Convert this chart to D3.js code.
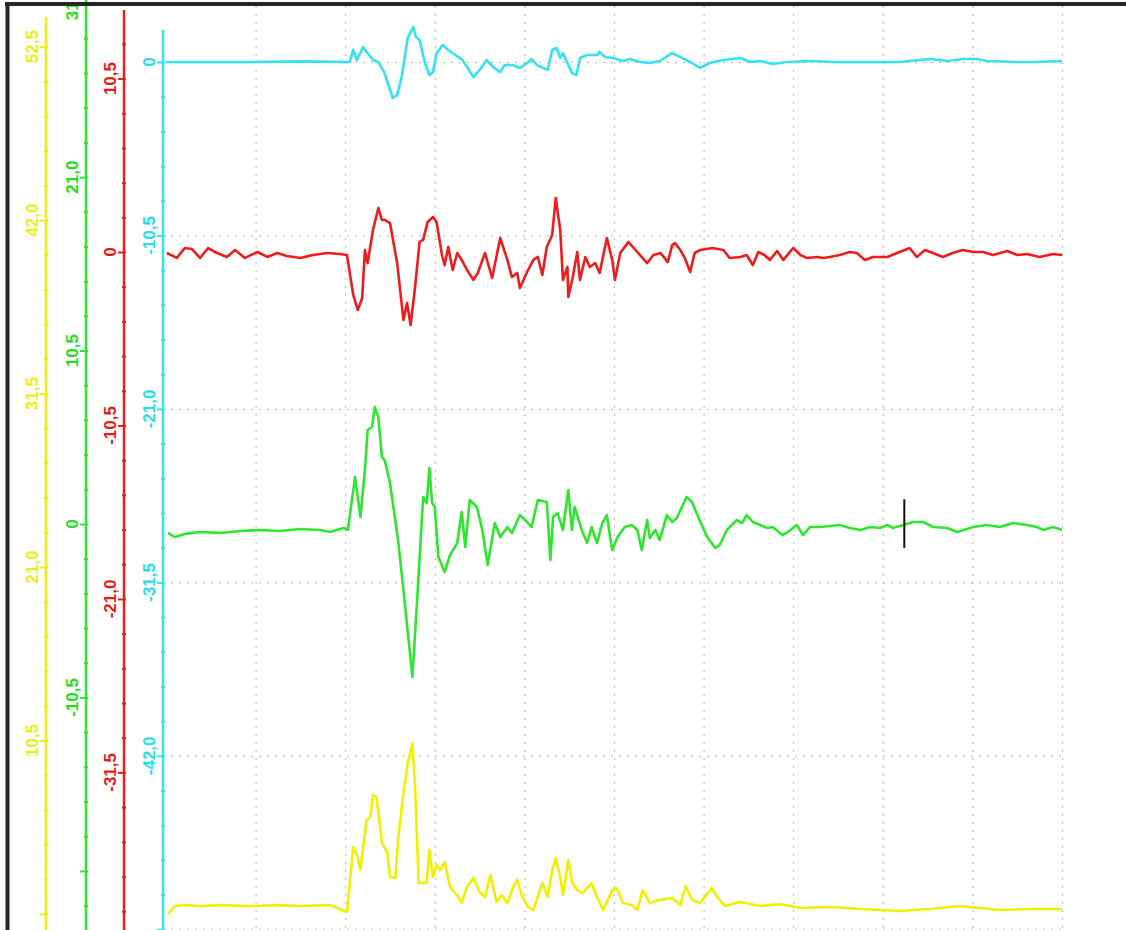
<!DOCTYPE html>
<html>
<head>
<meta charset="utf-8">
<script src="https://cdn.jsdelivr.net/npm/d3@7"></script>
<style>
  body { margin: 0; background: #fff; }
  svg { display: block; }
  .grid line { stroke: #b4b4b4; stroke-width: 1; stroke-dasharray: 2,6; }
  .lbl { font-family: "Liberation Sans", Arial, sans-serif; font-size: 17px; font-weight: bold; }
</style>
</head>
<body>
<script>
'use strict';

// Four channel traces, each with its own vertical axis on the left.
// t runs 0..100 across the ten screen divisions, values are in the
// channel's own units.

var cyanTrace = [
  [0, 0], [9.4, 0], [15.0, 0.04], [20.1, 0], [20.5, 0], [20.9, 0.73], [21.3, 0.12], [22.0, 0.91],
  [22.4, 0.61], [23.1, 0.12], [23.7, 0], [24.4, -0.67], [25.3, -2.18], [25.8, -2.0], [26.3, -0.91],
  [27.0, 1.51], [27.6, 2.12], [27.9, 1.51], [28.3, 1.33], [28.9, -0.06], [29.4, -0.79], [29.8, -0.61],
  [30.2, 0.54], [30.9, 1.03], [31.5, 0.73], [32.3, 0.42], [33.1, 0.12], [34.3, -0.91], [35.0, -0.48],
  [35.8, 0.12], [36.5, -0.3], [37.3, -0.61], [37.8, -0.18], [38.7, -0.18], [39.5, -0.36], [40.3, -0.06],
  [40.8, 0.18], [41.4, -0.18], [42.1, -0.36], [42.6, -0.48], [43.1, 0.73], [43.6, 0.85], [44.0, 0.24],
  [44.3, 0.54], [44.8, -0.06], [45.3, -0.67], [45.8, -0.79], [46.2, 0.24], [47.0, 0.42], [48.1, 0.42],
  [48.4, 0.61], [49.0, 0.3], [49.9, 0.24], [51.0, 0.06], [51.8, 0.18], [52.9, 0], [54.0, -0.06],
  [55.1, 0.06], [56.5, 0.54], [57.4, 0.3], [58.5, 0], [59.6, -0.36], [60.7, -0.06], [62.2, 0.12],
  [64.1, 0.24], [65.2, 0], [66.3, 0.06], [67.7, -0.12], [69.3, 0], [72.2, 0.06], [74.4, 0],
  [78.2, 0], [81.9, 0], [85.3, 0.18], [87.2, 0.06], [88.9, 0.18], [90.5, 0.18], [91.6, 0.06],
  [95.0, 0], [96.8, 0], [100, 0.06]
];

var redTrace = [
  [0.1, -0.06], [1.2, -0.36], [2.1, 0.24], [2.9, 0.18], [3.8, -0.36], [4.7, 0.24], [5.7, -0.06],
  [6.8, -0.3], [7.7, 0.12], [8.8, -0.36], [10.2, 0], [11.3, -0.3], [12.4, -0.06], [13.5, -0.24],
  [15.0, -0.36], [16.4, -0.18], [18.0, -0.06], [19.4, -0.12], [20.2, -0.18], [20.9, -2.6],
  [21.4, -3.51], [21.9, -2.78], [22.2, 0.12], [22.5, -0.67], [23.1, 1.33], [23.7, 2.66], [24.1, 1.94],
  [24.4, 1.94], [25.0, 1.75], [25.8, -0.67], [26.5, -4.11], [26.9, -3.09], [27.3, -4.42], [27.8, -2.12],
  [28.3, 0.61], [28.7, 0.73], [29.2, 1.82], [29.8, 2.12], [30.2, 1.82], [30.8, -0.18], [31.1, -0.79],
  [31.5, 0.3], [32.0, -1.09], [32.5, -0.06], [33.0, -0.48], [33.6, -1.09], [34.3, -1.69], [34.8, -1.27],
  [35.6, -0.06], [36.4, -1.57], [37.3, 0.85], [38.1, -0.48], [38.6, -1.51], [39.2, -1.27], [39.5, -2.18],
  [40.3, -1.21], [41.0, -0.48], [41.5, -0.3], [42.0, -1.39], [42.5, 0.3], [43.1, 1.03], [43.5, 3.27],
  [44.0, 1.33], [44.3, -1.69], [44.8, -0.91], [44.9, -2.72], [45.4, -1.51], [45.9, 0], [46.2, -1.69],
  [46.8, -0.3], [47.3, -0.91], [47.9, -0.67], [48.4, -1.27], [49.2, 0.85], [49.8, -0.48], [50.1, -1.69],
  [50.7, -0.06], [51.6, 0.61], [52.6, 0], [53.7, -0.67], [54.4, -0.18], [55.2, -0.06], [56.0, -0.61],
  [56.5, 0.42], [56.8, 0.54], [57.4, 0.12], [57.9, -0.36], [58.5, -1.21], [59.0, -0.06], [59.6, 0.12],
  [61.0, 0.24], [62.2, 0.12], [62.9, -0.36], [64.1, -0.3], [64.8, -0.18], [65.5, -0.79], [66.1, 0],
  [66.8, -0.18], [67.4, -0.48], [68.2, 0.06], [68.9, -0.48], [70.0, 0.24], [70.8, -0.18], [71.5, -0.36],
  [72.7, -0.3], [73.3, -0.36], [74.1, -0.3], [75.2, -0.18], [76.3, 0], [77.1, -0.06], [78.0, -0.48],
  [78.9, -0.3], [80.5, -0.3], [81.6, -0.06], [83.0, 0.24], [83.8, -0.3], [84.7, 0.12], [85.6, -0.06],
  [86.7, -0.3], [87.8, -0.06], [88.9, 0.12], [90.1, 0], [91.2, 0], [92.3, -0.18], [93.9, 0.06],
  [95.0, -0.18], [96.1, -0.12], [97.5, -0.3], [99.0, -0.12], [100, -0.18]
];

var greenTrace = [
  [0.2, -0.54], [1.0, -0.79], [2.1, -0.6], [3.8, -0.48], [6.0, -0.54], [8.3, -0.42], [10.5, -0.36],
  [12.7, -0.42], [15.0, -0.3], [17.2, -0.36], [18.3, -0.48], [19.8, -0.24], [20.3, -0.36], [21.1, 2.84],
  [21.7, 0.42], [22.2, 3.27], [22.5, 5.69], [23.0, 5.87], [23.3, 7.08], [23.7, 6.47], [24.1, 4.05],
  [24.4, 3.87], [25.0, 2.48], [25.9, -0.97], [26.7, -5.02], [27.5, -9.26], [28.1, -3.99], [28.7, 1.63],
  [29.1, 1.27], [29.4, 3.39], [29.7, 1.27], [30.0, 1.03], [30.4, -2.0], [31.1, -2.9], [31.7, -1.88],
  [32.5, -1.15], [33.0, 0.73], [33.4, -1.39], [33.9, 1.45], [34.7, 1.03], [35.3, -0.36], [35.9, -2.48],
  [36.7, 0.06], [37.3, -0.79], [38.1, -0.18], [38.6, -0.54], [39.5, 0.54], [40.3, 0.12], [40.8, -0.18],
  [41.5, 1.45], [42.5, 1.33], [42.9, -2.18], [43.2, 0.42], [43.7, 0.67], [44.3, -0.36], [44.9, 2.06],
  [45.3, -0.36], [45.6, 1.03], [46.4, -0.36], [47.0, -1.15], [47.5, -0.18], [48.1, -1.15], [48.7, 0.06],
  [49.2, 0.54], [49.8, -1.57], [50.4, -0.79], [51.2, -0.18], [52.0, -0.06], [52.6, -0.36], [53.1, -1.57],
  [53.7, 0.24], [54.0, -0.85], [54.6, -0.36], [55.1, -0.97], [55.9, 0.54], [56.5, 0.12], [57.0, 0.36],
  [58.1, 1.63], [58.7, 1.33], [59.4, 0.42], [60.4, -0.79], [61.3, -1.45], [61.8, -1.27], [62.6, -0.36],
  [63.7, 0.24], [64.3, 0.06], [64.8, 0.54], [65.5, 0.12], [66.3, -0.06], [67.1, -0.24], [67.7, -0.18],
  [68.8, -0.67], [69.4, -0.48], [70.4, -0.06], [71.1, -0.67], [71.9, -0.18], [73.0, -0.18], [75.2, -0.06],
  [76.3, -0.24], [77.5, -0.36], [78.6, -0.18], [79.7, -0.24], [80.5, -0.06], [81.1, -0.24], [82.3, -0.06],
  [83.4, 0.12], [84.5, 0.12], [85.6, -0.18], [87.2, -0.24], [88.3, -0.48], [90.1, -0.18], [91.6, -0.06],
  [93.1, -0.18], [94.5, 0.06], [96.1, -0.06], [97.2, -0.18], [97.9, -0.36], [99.0, -0.18], [100, -0.36]
];

var yellowTrace = [
  [0.2, 0], [1.0, 0.48], [2.1, 0.54], [3.8, 0.48], [6.0, 0.54], [9.4, 0.48], [12.7, 0.54], [15.0, 0.48],
  [18.3, 0.54], [20.2, 0.12], [20.9, 4.05], [21.4, 3.45], [21.7, 2.66], [22.0, 4.05], [22.4, 5.69],
  [22.8, 5.87], [23.1, 7.2], [23.5, 7.08], [24.1, 4.3], [24.7, 3.69], [25.0, 2.24], [25.6, 2.18],
  [25.9, 4.48], [26.5, 7.32], [27.0, 9.2], [27.5, 10.35], [27.8, 7.68], [28.2, 1.88], [29.1, 1.88],
  [29.4, 3.87], [29.8, 2.24], [30.2, 2.96], [30.6, 2.66], [31.1, 3.15], [31.7, 1.63], [32.5, 1.15],
  [33.0, 0.67], [33.6, 1.63], [34.3, 2.18], [35.0, 1.33], [35.6, 1.03], [36.2, 2.36], [36.9, 0.73],
  [37.5, 1.15], [38.1, 0.67], [38.7, 1.57], [39.2, 2.06], [39.7, 1.15], [40.4, 0.42], [41.0, 0.24],
  [42.0, 1.88], [42.6, 1.03], [43.1, 2.66], [43.5, 3.39], [44.0, 2.24], [44.3, 1.15], [44.9, 3.27],
  [45.3, 1.94], [45.9, 1.45], [46.5, 1.27], [47.5, 1.88], [48.1, 1.03], [48.8, 0.24], [49.8, 1.45],
  [50.3, 1.57], [51.0, 0.67], [52.0, 0.54], [52.6, 0.24], [53.2, 1.45], [54.0, 0.67], [55.1, 0.85],
  [56.5, 0.97], [57.4, 0.54], [58.0, 1.69], [58.7, 0.85], [59.6, 0.67], [60.9, 1.57], [61.6, 0.97],
  [62.4, 0.48], [64.1, 0.73], [66.3, 0.48], [68.5, 0.6], [70.8, 0.36], [74.1, 0.42], [77.5, 0.3],
  [79.7, 0.24], [81.9, 0.18], [85.3, 0.3], [88.6, 0.48], [90.8, 0.36], [93.1, 0.24], [96.4, 0.3],
  [100, 0.3]
];

// labelled major ticks on each axis
var yellowLabels = [52.5, 42.0, 31.5, 21.0, 10.5];
var greenLabels  = [31.5, 21.0, 10.5, 0, -10.5];
var redLabels    = [10.5, 0, -10.5, -21.0, -31.5];
var cyanLabels   = [0, -10.5, -21.0, -31.5, -42.0];

// cursor marker sitting on the green trace
var cursorT = 82.4;
var cursorSpan = [1.5, -1.45];

var W = 1126, H = 930;
var pxPerUnit = 16.52;
var minorStep = 2.1;

var svg = d3.select("body").append("svg")
    .attr("width", W)
    .attr("height", H);

var x = d3.scaleLinear().domain([0, 100]).range([166, 1062]);

// each channel gets its own offset, all share the same gain
function chanScale(zeroY) {
    return d3.scaleLinear().domain([0, -10.5]).range([zeroY, zeroY + 10.5 * pxPerUnit]);
}

var channels = [
    { name: "yellow", color: "#f0f000", text: "#eded1a", data: yellowTrace, labels: yellowLabels,
      y: chanScale(914), axisX: 46, top: 17 },
    { name: "green", color: "#2ee62e", text: "#22dd22", data: greenTrace, labels: greenLabels,
      y: chanScale(524), axisX: 86, top: 0 },
    { name: "red", color: "#ee1c1c", text: "#e51a1a", data: redTrace, labels: redLabels,
      y: chanScale(252), axisX: 124, top: 10 },
    { name: "cyan", color: "#33e3f0", text: "#2adcec", data: cyanTrace, labels: cyanLabels,
      y: chanScale(62), axisX: 163, top: 30 }
];
var cyan = channels[3];

// grid: vertical per division, horizontal on cyan majors
var grid = svg.append("g").attr("class", "grid");
grid.append("g")
    .attr("transform", "translate(0,6)")
    .call(d3.axisBottom(x).tickValues(d3.range(10, 101, 10)).tickSize(H).tickFormat(""))
    .call(g => g.select(".domain").remove());
grid.append("g")
    .attr("transform", "translate(" + cyan.axisX + ",0)")
    .call(d3.axisRight(cyan.y).tickValues([0, -10.5, -21, -31.5, -42, -52.5])
        .tickSize(x(100) - cyan.axisX).tickFormat(""))
    .call(g => g.select(".domain").remove());

// traces
channels.forEach(function(ch) {
    var line = d3.line()
        .x(function(d) { return x(d[0]); })
        .y(function(d) { return ch.y(d[1]); });
    svg.append("path")
        .datum(ch.data)
        .attr("fill", "none")
        .attr("stroke", ch.color)
        .attr("stroke-width", 2.6)
        .attr("stroke-linejoin", "round")
        .attr("d", line);
});

// cursor
var green = channels[1];
svg.append("line")
    .attr("x1", x(cursorT)).attr("x2", x(cursorT))
    .attr("y1", green.y(cursorSpan[0])).attr("y2", green.y(cursorSpan[1]))
    .attr("stroke", "#111")
    .attr("stroke-width", 2);

function fmt(v) {
    return v === 0 ? "0" : v.toFixed(1).replace(".", ",");
}

// axes
channels.forEach(function(ch) {
    var lo = ch.y.invert(H), hi = ch.y.invert(ch.top);
    var idx = d3.range(Math.ceil(lo / minorStep), Math.floor(hi / minorStep) + 1);
    var minor = idx.filter(i => i % 5 !== 0).map(i => +(i * minorStep).toFixed(1));
    var major = idx.filter(i => i % 5 === 0).map(i => +(i * minorStep).toFixed(1));

    var g = svg.append("g");
    g.append("line")
        .attr("x1", ch.axisX).attr("x2", ch.axisX)
        .attr("y1", ch.top).attr("y2", H)
        .attr("stroke", ch.color)
        .attr("stroke-width", 2.5);

    g.append("g")
        .attr("transform", "translate(" + (ch.axisX + 2) + ",0)")
        .call(d3.axisLeft(ch.y).tickValues(minor).tickSize(4).tickFormat(""))
        .call(s => s.select(".domain").remove())
        .selectAll("line").attr("stroke", ch.color).attr("stroke-width", 2);
    g.append("g")
        .attr("transform", "translate(" + (ch.axisX + 2) + ",0)")
        .call(d3.axisLeft(ch.y).tickValues(major).tickSize(8).tickFormat(""))
        .call(s => s.select(".domain").remove())
        .selectAll("line").attr("stroke", ch.color).attr("stroke-width", 2);

    g.selectAll("text.lbl")
        .data(ch.labels)
        .enter().append("text")
        .attr("class", "lbl")
        .attr("transform", d => "translate(" + (ch.axisX - 8) + "," + ch.y(d) + ") rotate(-90)")
        .attr("text-anchor", "middle")
        .attr("fill", ch.text)
        .text(fmt);
});

// frame (top and left edges)
svg.append("line")
    .attr("x1", 5).attr("x2", W).attr("y1", 4).attr("y2", 4)
    .attr("stroke", "#262626").attr("stroke-width", 4);
svg.append("line")
    .attr("x1", 7.5).attr("x2", 7.5).attr("y1", 2).attr("y2", H)
    .attr("stroke", "#262626").attr("stroke-width", 4);
</script>
</body>
</html>
